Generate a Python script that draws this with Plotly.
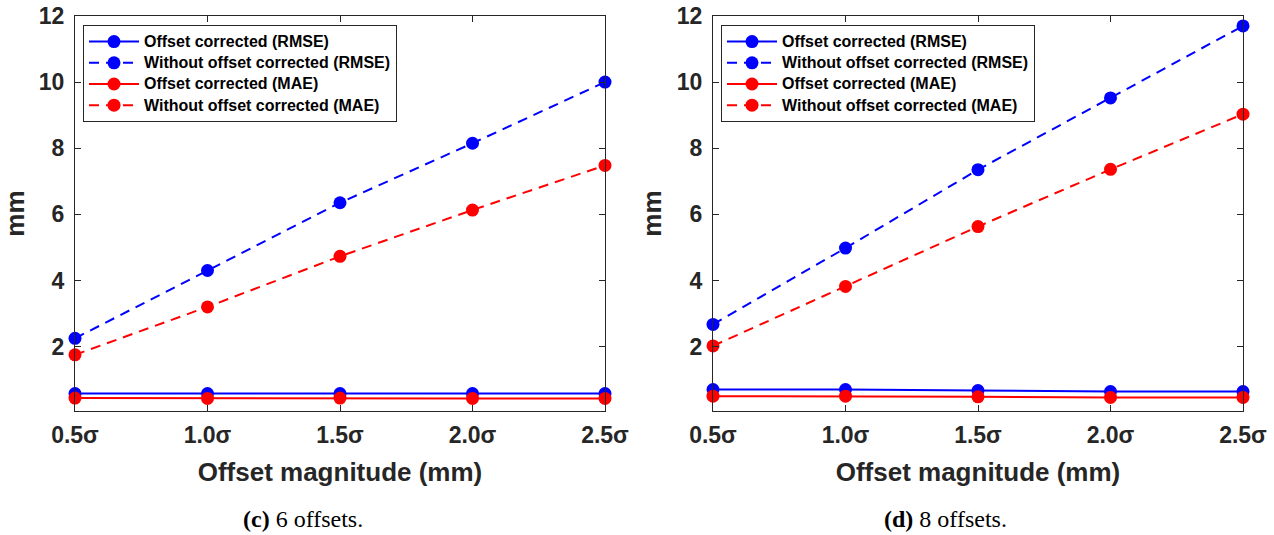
import plotly.graph_objects as go

x_labels = ["0.5σ", "1.0σ", "1.5σ", "2.0σ", "2.5σ"]
x_vals = [0.5, 1.0, 1.5, 2.0, 2.5]

# (c) 6 offsets
c_rmse_corr = [0.58, 0.58, 0.58, 0.58, 0.58]
c_rmse_raw = [2.25, 4.3, 6.35, 8.15, 10.0]
c_mae_corr = [0.44, 0.43, 0.44, 0.43, 0.43]
c_mae_raw = [1.75, 3.2, 4.73, 6.13, 7.48]

# (d) 8 offsets
d_rmse_corr = [0.70, 0.70, 0.67, 0.64, 0.64]
d_rmse_raw = [2.67, 4.98, 7.35, 9.52, 11.7]
d_mae_corr = [0.50, 0.50, 0.48, 0.46, 0.46]
d_mae_raw = [2.02, 3.82, 5.63, 7.36, 9.03]

names = ["Offset corrected (RMSE)", "Without offset corrected (RMSE)",
         "Offset corrected (MAE)", "Without offset corrected (MAE)"]
colors = ["#0000FF", "#0000FF", "#FF0000", "#FF0000"]
dashes = ["solid", "10px,7px", "solid", "10px,7px"]

fig = go.Figure()
panels = [
    ("x", "y", "legend", [c_rmse_corr, c_rmse_raw, c_mae_corr, c_mae_raw]),
    ("x2", "y2", "legend2", [d_rmse_corr, d_rmse_raw, d_mae_corr, d_mae_raw]),
]
for xa, ya, lg, series in panels:
    for nm, col, dsh, vals in zip(names, colors, dashes, series):
        fig.add_trace(go.Scatter(
            x=x_vals, y=vals,
            name=f"<span style='font-size:16px'><b>{nm}</b></span>",
            mode="lines+markers",
            line=dict(color=col, width=2, dash=dsh),
            marker=dict(color=col, size=13),
            xaxis=xa, yaxis=ya, legend=lg, cliponaxis=False,
        ))

tick_font = dict(family="Liberation Sans, Arial", size=23, color="#262626")
title_font = dict(family="Liberation Sans, Arial", size=26, color="#262626")

ax_common = dict(
    showline=True, linecolor="#262626", linewidth=1, mirror="allticks",
    ticks="inside", ticklen=6, tickcolor="#262626", showgrid=False,
    zeroline=False, tickfont=tick_font, automargin=False,
)

ydom = [1 - 411 / 535, 1 - 16 / 535]
ytv = [2, 4, 6, 8, 10, 12]
xcommon = dict(range=[0.5, 2.5], tickvals=x_vals,
               ticktext=[f"<b>{t}</b>" for t in x_labels],
               ticklabelstandoff=3,
               title=dict(text="<b>Offset magnitude (mm)</b>", font=title_font, standoff=16))
ycommon = dict(range=[0.05, 12], tickvals=ytv,
               ticktext=[f"<b>{v}</b>" for v in ytv],
               ticklabelstandoff=5,
               title=dict(text="<b>mm</b>", font=title_font, standoff=7))
leg_common = dict(xanchor="left", yanchor="top",
                  bordercolor="#262626", borderwidth=1, bgcolor="white",
                  font=dict(family="Liberation Sans, Arial", size=14, color="black"),
                  tracegroupgap=0, itemwidth=50)

fig.update_layout(
    width=1274, height=535, margin=dict(l=0, r=0, t=0, b=0),
    plot_bgcolor="white", paper_bgcolor="white",
    xaxis=dict(domain=[75 / 1274, 605 / 1274], anchor="y", **xcommon, **ax_common),
    yaxis=dict(domain=ydom, anchor="x", **ycommon, **ax_common),
    xaxis2=dict(domain=[713 / 1274, 1243 / 1274], anchor="y2", **xcommon, **ax_common),
    yaxis2=dict(domain=ydom, anchor="x2", **ycommon, **ax_common),
    legend=dict(x=83 / 1274, y=1 - 25 / 535, **leg_common),
    legend2=dict(x=721 / 1274, y=1 - 25 / 535, **leg_common),
    showlegend=True,
)

cap_font = dict(family="Liberation Serif, Times New Roman", size=24, color="black")
fig.add_annotation(text="<b>(c)</b> 6 offsets.", x=303 / 1274, y=1 - 519 / 535,
                   xref="paper", yref="paper", showarrow=False, font=cap_font,
                   xanchor="center", yanchor="middle")
fig.add_annotation(text="<b>(d)</b> 8 offsets.", x=945 / 1274, y=1 - 519 / 535,
                   xref="paper", yref="paper", showarrow=False, font=cap_font,
                   xanchor="center", yanchor="middle")

fig.write_html("out.html")
